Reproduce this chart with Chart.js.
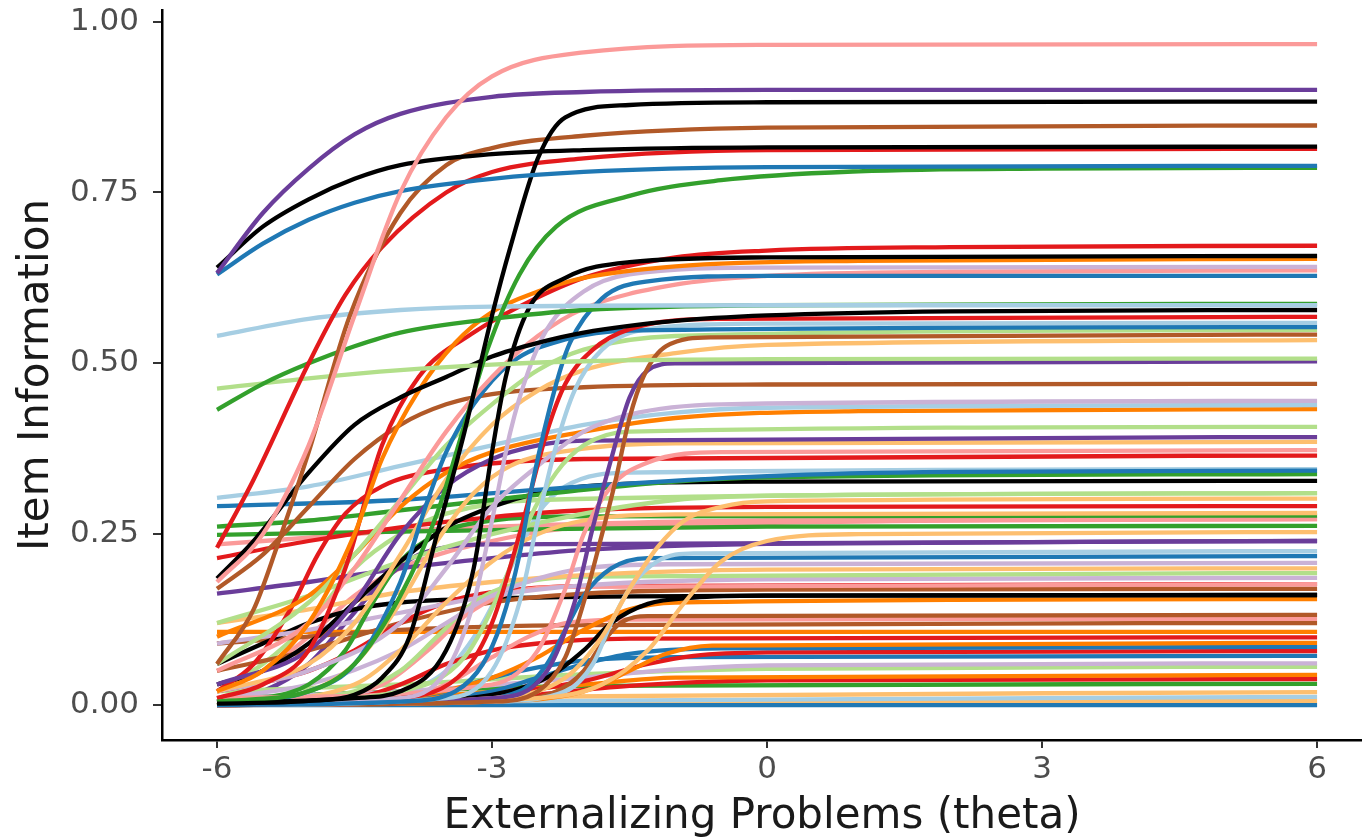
<!DOCTYPE html>
<html lang="en">
<head>
<meta charset="UTF-8" />
<title>Item Information</title>
<style>
  html, body { margin: 0; padding: 0; background: #fff; }
  #wrap { width: 1362px; height: 838px; }
</style>
</head>
<body>
<div id="wrap"><canvas id="itemChart" width="1362" height="838"></canvas></div>
<script src="https://cdn.jsdelivr.net/npm/chart.js@4.4.1/dist/chart.umd.min.js"></script>
<script>
// Paired palette, yellow swapped for black
const paired = {
  LB: "#A6CEE3", B: "#1F78B4", LG: "#B2DF8A", G: "#33A02C",
  PK: "#FB9A99", R: "#E31A1C", LO: "#FDBF6F", O: "#FF7F00",
  LV: "#CAB2D6", PU: "#6A3D9A", BK: "#000000", BR: "#B15928"
};

const xTicks = [-6, -3, 0, 3, 6];
const yTicks = [0, 0.25, 0.5, 0.75, 1];

// one colour per item
const itemColor = [
  "PK","PU","BK","B","BK","BR","R","G","LB","G",
  "LG","BK","BK","O","R","B","LV","PK","R","B",
  "LB","BR","PU","LO","LG","BR","LV","LB","O","LG",
  "PU","LO","PK","R","B","G","BK","LG","LO","R",
  "LO","G","G","PK","LO","PU","LB","B","LV","LO",
  "LG","LV","PK","R","BR","BK","BK","O","BR","PK",
  "BR","O","R","O","B","R","B","LV","LG","O",
  "R","G","LO","LB","LO","B","PU","LG","LB","PK"
];

// information curves, [theta, info]
const itemCurve = [
  [[-6,.18],[-5.5,.25],[-5,.38],[-4.5,.57],[-4,.75],[-3.5,.86],[-3,.92],[-2,.955],[0,.966],[6,.967]],
  [[-6,.632],[-5.5,.72],[-5,.785],[-4.5,.835],[-4,.865],[-3,.89],[-2,.897],[0,.9],[6,.9]],
  [[-6,.64],[-5.5,.70],[-5,.74],[-4.5,.77],[-4,.79],[-3,.806],[-2,.812],[0,.816],[6,.817]],
  [[-6,.63],[-5.5,.675],[-5,.71],[-4.5,.735],[-4,.752],[-3,.77],[-2,.78],[0,.787],[6,.789]],
  [[-6,.002],[-5,.006],[-4.5,.015],[-4.2,.04],[-3.9,.10],[-3.6,.25],[-3.3,.40],[-3,.57],[-2.8,.67],[-2.5,.80],[-2.2,.86],[-1.5,.878],[0,.882],[6,.883]],
  [[-6,.06],[-5.6,.14],[-5.35,.23],[-5,.37],[-4.55,.57],[-4,.72],[-3.5,.79],[-3,.815],[-2,.833],[0,.845],[6,.848]],
  [[-6,.23],[-5.6,.33],[-5,.50],[-4.6,.60],[-4.2,.67],[-3.5,.75],[-3,.78],[-2,.80],[0,.812],[6,.814]],
  [[-6,.005],[-5,.02],[-4.5,.06],[-4,.16],[-3.6,.28],[-3.3,.41],[-3.05,.52],[-2.7,.63],[-2.3,.70],[-1.5,.745],[-.5,.768],[1,.781],[3,.785],[6,.786]],
  [[-6,.54],[-5,.565],[-4,.578],[-3,.583],[0,.585],[6,.585]],
  [[-6,.432],[-5.5,.47],[-5,.50],[-4.5,.525],[-4,.545],[-3,.565],[-2,.578],[0,.585],[6,.587]],
  [[-6,.463],[-5,.478],[-4,.49],[-3,.498],[-2,.503],[0,.506],[6,.507]],
  [[-6,.185],[-5.6,.24],[-5,.34],[-4.5,.41],[-4,.45],[-3.5,.48],[-3,.51],[-2.5,.53],[-2,.545],[-1,.562],[0,.57],[2,.576],[6,.578]],
  [[-6,.003],[-4.5,.01],[-4,.02],[-3.5,.08],[-3.2,.2],[-3,.37],[-2.85,.48],[-2.6,.58],[-2.2,.625],[-1.5,.648],[0,.655],[6,.657]],
  [[-6,.02],[-5.5,.05],[-5,.12],[-4.5,.25],[-4.2,.36],[-3.8,.46],[-3.4,.53],[-3,.575],[-2.5,.605],[-2,.625],[-1,.642],[1,.65],[6,.653]],
  [[-6,.01],[-5.5,.03],[-5,.08],[-4.6,.2],[-4.2,.38],[-3.8,.48],[-3.2,.545],[-2.6,.59],[-2,.625],[-1,.655],[0,.665],[2,.67],[6,.672]],
  [[-6,0],[-4,.005],[-3.4,.02],[-3.1,.06],[-2.9,.12],[-2.7,.22],[-2.55,.33],[-2.3,.47],[-2.15,.53],[-1.8,.595],[-1.3,.62],[0,.628],[6,.628]],
  [[-6,.003],[-4,.01],[-3.5,.05],[-3.2,.15],[-3,.27],[-2.8,.40],[-2.6,.49],[-2.4,.55],[-2,.605],[-1.5,.63],[0,.64],[6,.641]],
  [[-6,.05],[-5,.12],[-4.5,.2],[-4,.3],[-3.5,.4],[-3,.48],[-2.5,.54],[-2,.58],[-1,.615],[0,.628],[2,.634],[6,.636]],
  [[-6,0],[-4,.01],[-3.3,.05],[-3,.12],[-2.7,.25],[-2.4,.40],[-2.2,.47],[-1.9,.52],[-1.5,.55],[-.5,.565],[6,.568]],
  [[-6,0],[-5,.02],[-4.5,.06],[-4,.18],[-3.7,.30],[-3.5,.37],[-3.2,.44],[-2.8,.50],[-2.2,.535],[-1.5,.548],[6,.553]],
  [[-6,0],[-3.5,.01],[-3,.05],[-2.7,.15],[-2.5,.27],[-2.3,.38],[-2.1,.46],[-1.8,.52],[-1.3,.55],[0,.558],[6,.559]],
  [[-6,0],[-3,.005],[-2.5,.02],[-2.2,.07],[-2,.15],[-1.8,.25],[-1.65,.33],[-1.5,.42],[-1.35,.48],[-1.1,.525],[-.6,.538],[6,.542]],
  [[-6,0],[-3,.01],[-2.4,.05],[-2.1,.15],[-1.9,.26],[-1.7,.36],[-1.5,.45],[-1.3,.49],[-1,.50],[6,.503]],
  [[-6,.02],[-5,.06],[-4.5,.12],[-4,.22],[-3.5,.33],[-3,.41],[-2.5,.46],[-2,.49],[-1,.515],[0,.527],[6,.534]],
  [[-6,.06],[-5,.15],[-4.5,.22],[-4,.30],[-3.5,.38],[-3,.44],[-2.5,.49],[-2,.52],[-1,.54],[6,.549]],
  [[-6,.17],[-5.5,.22],[-5,.29],[-4.5,.36],[-4,.41],[-3.5,.44],[-3,.455],[-2,.465],[0,.469],[6,.47]],
  [[-6,.02],[-5,.05],[-4,.12],[-3.5,.2],[-3,.29],[-2.5,.35],[-2,.40],[-1.5,.425],[-.5,.44],[6,.445]],
  [[-6,.303],[-5,.32],[-4,.35],[-3,.38],[-2,.41],[-1,.428],[0,.435],[6,.439]],
  [[-6,.10],[-5,.16],[-4.5,.22],[-4,.29],[-3.5,.34],[-3,.37],[-2,.40],[-1,.42],[1,.43],[6,.433]],
  [[-6,0],[-4,.02],[-3.3,.07],[-2.9,.17],[-2.6,.27],[-2.3,.34],[-2,.38],[-1.5,.40],[6,.407]],
  [[-6,.03],[-5,.08],[-4.5,.15],[-4,.25],[-3.5,.32],[-3,.36],[-2.5,.38],[-2,.387],[6,.392]],
  [[-6,0],[-5,.02],[-4.5,.06],[-4,.15],[-3.6,.24],[-3.2,.31],[-2.8,.35],[-2,.375],[-1,.383],[6,.385]],
  [[-6,.01],[-3,.03],[-2.5,.08],[-2.2,.17],[-2,.25],[-1.7,.32],[-1.3,.355],[-.5,.37],[6,.373]],
  [[-6,.02],[-5.6,.06],[-5.2,.14],[-4.9,.22],[-4.6,.28],[-4.2,.32],[-3.5,.345],[-2,.36],[6,.365]],
  [[-6,.291],[-4,.30],[-2,.32],[0,.335],[2,.341],[6,.343]],
  [[-6,.261],[-5,.27],[-4,.285],[-3,.30],[-2,.315],[-1,.327],[0,.333],[6,.338]],
  [[-6,.03],[-5.5,.05],[-5,.09],[-4.5,.15],[-4,.21],[-3.5,.26],[-3,.29],[-2.5,.31],[-2,.32],[0,.327],[6,.328]],
  [[-6,.12],[-5,.16],[-4,.21],[-3,.25],[-2,.28],[-1,.30],[0,.306],[6,.31]],
  [[-6,0],[-3,.01],[-2.2,.04],[-1.8,.1],[-1.5,.17],[-1.2,.23],[-.9,.27],[-.5,.29],[0,.298],[6,.302]],
  [[-6,.215],[-5,.24],[-4,.26],[-3,.275],[-2,.285],[0,.29],[6,.291]],
  [[-6,0],[-4.5,.03],[-4,.08],[-3.5,.15],[-3,.21],[-2.5,.25],[-2,.27],[-1,.279],[6,.281]],
  [[-6,.249],[-3,.256],[0,.261],[6,.262]],
  [[-6,.005],[-5.5,.01],[-5,.03],[-4.6,.08],[-4.3,.15],[-4,.21],[-3.6,.25],[-3,.27],[-2,.276],[6,.277]],
  [[-6,.235],[-5,.245],[-4,.255],[-2,.265],[0,.27],[6,.272]],
  [[-6,0],[-2.5,.01],[-1.8,.03],[-1.3,.08],[-.9,.15],[-.5,.21],[0,.24],[1,.25],[6,.253]],
  [[-6,.163],[-5,.18],[-4,.20],[-3,.215],[-2,.227],[0,.236],[6,.24]],
  [[-6,0],[-3,.005],[-2.2,.02],[-1.9,.06],[-1.7,.12],[-1.5,.17],[-1.2,.21],[-.8,.222],[6,.225]],
  [[-6,0],[-3.5,.005],[-2.7,.02],[-2.4,.06],[-2.2,.11],[-2,.16],[-1.7,.2],[-1.3,.215],[6,.218]],
  [[-6,.01],[-5,.03],[-4,.08],[-3.5,.12],[-3,.16],[-2.5,.185],[-2,.2],[-1,.206],[6,.208]],
  [[-6,.12],[-5,.14],[-4,.165],[-3,.18],[-2,.19],[0,.198],[6,.2]],
  [[-6,0],[-4.5,.02],[-4,.05],[-3.6,.1],[-3.2,.15],[-2.8,.175],[-2,.188],[6,.193]],
  [[-6,.09],[-5,.11],[-4,.135],[-3,.16],[-2,.175],[0,.184],[6,.186]],
  [[-6,0],[-5,.01],[-4.2,.03],[-3.7,.08],[-3.3,.13],[-2.9,.16],[-2.3,.173],[6,.177]],
  [[-6,.02],[-5,.05],[-4.5,.08],[-4,.12],[-3.5,.15],[-3,.165],[-2,.174],[6,.177]],
  [[-6,.05],[-5,.08],[-4,.12],[-3,.15],[-2,.163],[0,.169],[6,.17]],
  [[-6,0],[-4,.005],[-3,.015],[-2.4,.04],[-2,.08],[-1.7,.12],[-1.3,.148],[-.8,.157],[0,.16],[6,.161]],
  [[-6,.06],[-5.5,.09],[-5,.12],[-4.5,.14],[-4,.15],[-3,.156],[0,.16],[6,.161]],
  [[-6,0],[-4,.01],[-3,.04],[-2.5,.07],[-2,.11],[-1.5,.14],[-1,.15],[6,.155]],
  [[-6,0],[-3,.005],[-2.3,.02],[-2,.05],[-1.8,.09],[-1.6,.12],[-1.3,.13],[6,.132]],
  [[-6,0],[-4,.01],[-3.5,.03],[-3,.07],[-2.6,.1],[-2.2,.12],[-1.5,.125],[6,.126]],
  [[-6,.09],[-5,.1],[-4,.11],[-2,.117],[6,.12]],
  [[-6,.107],[0,.107],[6,.107]],
  [[-6,0],[-4.5,.01],[-4,.03],[-3.5,.06],[-3,.08],[-2.5,.09],[-1.5,.097],[6,.099]],
  [[-6,0],[-3,.005],[-2,.02],[-1.5,.05],[-1.1,.075],[-.6,.087],[6,.091]],
  [[-6,0],[-4,.005],[-3,.02],[-2.5,.04],[-2,.06],[-1.5,.075],[-.5,.083],[6,.085]],
  [[-6,0],[-4,.005],[-3,.015],[-2,.035],[-1.3,.06],[-.8,.072],[0,.077],[6,.079]],
  [[-6,0],[-4.5,.005],[-3.5,.02],[-3,.04],[-2.5,.055],[-2,.065],[-1,.07],[6,.072]],
  [[-6,.01],[-4,.02],[-2,.04],[-1,.052],[0,.058],[6,.061]],
  [[-6,.02],[-4,.03],[-2,.045],[0,.053],[6,.056]],
  [[-6,0],[-4,.01],[-2,.03],[-1,.04],[6,.044]],
  [[-6,0],[-3,.01],[-1.5,.028],[0,.036],[6,.038]],
  [[-6,.01],[-4,.02],[-2,.028],[6,.031]],
  [[-6,.005],[-3,.012],[6,.019]],
  [[-6,.003],[0,.008],[6,.012]],
  [[-6,.006],[0,.006],[6,.006]],
  [[-6,0],[0,0],[6,0]],
  [[-6,.005],[-5.5,.02],[-5,.06],[-4.6,.12],[-4.2,.18],[-3.8,.22],[-3,.235],[6,.24]],
  [[-6,.02],[-5.5,.06],[-5,.12],[-4.5,.2],[-4,.25],[-3.5,.28],[-2.5,.3],[6,.31]],
  [[-6,.005],[-4,.02],[-3.5,.05],[-3.1,.12],[-2.8,.2],[-2.5,.28],[-2.2,.32],[-1.5,.34],[6,.345]],
  [[-6,.02],[-5.5,.05],[-5,.10],[-4.5,.16],[-4,.2],[-3,.24],[-2,.26],[6,.272]]
];

const fontFamily = "'DejaVu Sans', sans-serif";

const datasets = itemCurve.map(function (pts, i) {
  return {
    data: pts.map(p => ({ x: p[0], y: p[1] })),
    borderColor: paired[itemColor[i]],
    borderWidth: 4.3,
    pointRadius: 0,
    showLine: true,
    fill: false,
    cubicInterpolationMode: "monotone"
  };
});

new Chart(document.getElementById("itemChart"), {
  type: "scatter",
  data: { datasets: datasets },
  options: {
    responsive: false,
    animation: false,
    devicePixelRatio: 1,
    layout: { padding: { top: 10, right: 0, bottom: 0, left: 0 } },
    plugins: { legend: { display: false }, tooltip: { enabled: false } },
    scales: {
      x: {
        type: "linear",
        min: -6.6,
        max: 6.49,
        afterBuildTicks: s => { s.ticks = xTicks.map(v => ({ value: v })); },
        afterFit: s => { s.height = 98; s.paddingLeft = 0; s.paddingRight = 0; },
        border: { display: true, color: "#000", width: 2.5 },
        grid: { drawOnChartArea: false, drawTicks: true, tickLength: 8, color: "#333", lineWidth: 2 },
        ticks: { color: "#4d4d4d", font: { family: fontFamily, size: 31 }, padding: 3, maxRotation: 0 },
        title: { display: true, text: "Externalizing Problems (theta)", color: "#1a1a1a",
                 font: { family: fontFamily, size: 42, lineHeight: 1.0 }, padding: { top: 0, bottom: 0 } }
      },
      y: {
        type: "linear",
        min: -0.0512,
        max: 1.017,
        afterBuildTicks: s => { s.ticks = yTicks.map(v => ({ value: v })); },
        afterFit: s => { s.width = 162; s.paddingTop = 0; s.paddingBottom = 0; },
        border: { display: true, color: "#000", width: 2.5 },
        grid: { drawOnChartArea: false, drawTicks: true, tickLength: 9, color: "#333", lineWidth: 2 },
        ticks: { color: "#4d4d4d", font: { family: fontFamily, size: 31 }, padding: 14,
                 callback: v => v.toFixed(2) },
        title: { display: true, text: "Item Information", color: "#1a1a1a",
                 font: { family: fontFamily, size: 42 }, padding: { top: 12, bottom: 0 } }
      }
    }
  }
});
</script>
</body>
</html>
